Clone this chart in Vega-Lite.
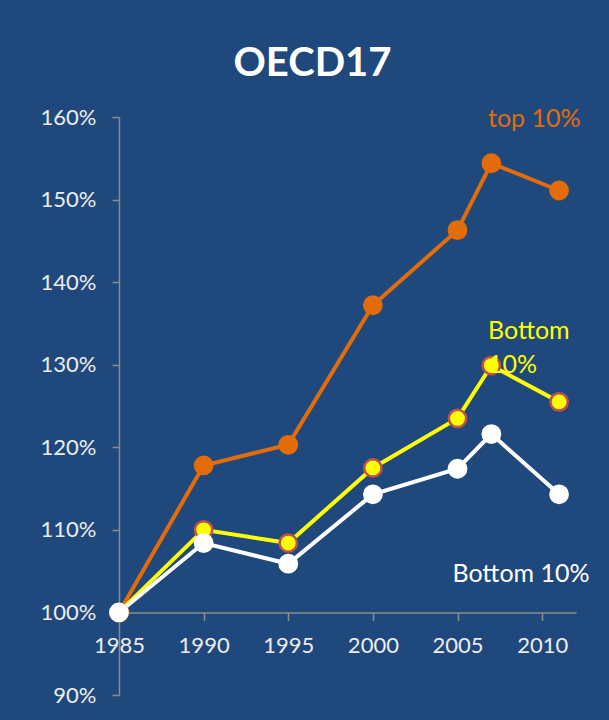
{
  "$schema": "https://vega.github.io/schema/vega-lite/v6.json",
  "width": 457,
  "height": 578,
  "autosize": {"type": "none"},
  "padding": {"left": 119, "top": 117, "right": 33, "bottom": 25},
  "background": "#1F497D",
  "config": {"view": {"stroke": null}, "font": "Lato"},
  "title": {"text": "OECD17", "color": "#FFFFFF", "fontSize": 40, "fontWeight": "bold", "font": "Lato", "anchor": "middle", "frame": "group", "dx": -35, "offset": 22},
  "datasets": {
    "series": [
      {"series": "top", "year": 1985, "value": 100},
      {"series": "top", "year": 1990, "value": 117.8},
      {"series": "top", "year": 1995, "value": 120.3},
      {"series": "top", "year": 2000, "value": 137.2},
      {"series": "top", "year": 2005, "value": 146.3},
      {"series": "top", "year": 2007, "value": 154.4},
      {"series": "top", "year": 2011, "value": 151.1},
      {"series": "bottomY", "year": 1985, "value": 100},
      {"series": "bottomY", "year": 1990, "value": 110.0},
      {"series": "bottomY", "year": 1995, "value": 108.4},
      {"series": "bottomY", "year": 2000, "value": 117.5},
      {"series": "bottomY", "year": 2005, "value": 123.5},
      {"series": "bottomY", "year": 2007, "value": 129.9},
      {"series": "bottomY", "year": 2011, "value": 125.5},
      {"series": "bottomW", "year": 1985, "value": 100},
      {"series": "bottomW", "year": 1990, "value": 108.4},
      {"series": "bottomW", "year": 1995, "value": 105.9},
      {"series": "bottomW", "year": 2000, "value": 114.3},
      {"series": "bottomW", "year": 2005, "value": 117.4},
      {"series": "bottomW", "year": 2007, "value": 121.6},
      {"series": "bottomW", "year": 2011, "value": 114.3}
    ],
    "labels": [
      {"series": "top", "label": "top 10%", "year": 2006.8, "value": 158.8},
      {"series": "bottomY", "label": "Bottom\n10%", "year": 2006.8, "value": 133.1},
      {"series": "bottomW", "label": "Bottom 10%", "year": 2004.7, "value": 103.7}
    ]
  },
  "layer": [
    {
      "data": {"name": "series"},
      "mark": {"type": "line", "strokeWidth": 4},
      "encoding": {
        "x": {
          "field": "year", "type": "quantitative",
          "scale": {"domain": [1985, 2012], "nice": false, "zero": false},
          "axis": {
            "values": [1985, 1990, 1995, 2000, 2005, 2010], "format": "d", "title": null,
            "offset": -82.57, "grid": false, "labelFlush": false, "labelOverlap": false,
            "domainColor": "#8C8C8C", "domainWidth": 1.5, "tickColor": "#8C8C8C", "tickWidth": 1.5, "tickSize": 8,
            "labelColor": "#EDEDED", "labelFontSize": 22, "labelPadding": 15, "labelFont": "Lato"
          }
        },
        "y": {
          "field": "value", "type": "quantitative",
          "scale": {"domain": [90, 160], "nice": false, "zero": false},
          "axis": {
            "values": [90, 100, 110, 120, 130, 140, 150, 160], "labelExpr": "datum.value + '%'", "title": null,
            "grid": false, "labelFlush": false, "labelOverlap": false,
            "domainColor": "#8C8C8C", "domainWidth": 1.5, "tickColor": "#8C8C8C", "tickWidth": 1.5, "tickSize": 7,
            "labelColor": "#EDEDED", "labelFontSize": 22, "labelPadding": 16, "labelFont": "Lato"
          }
        },
        "color": {"field": "series", "type": "nominal", "scale": {"domain": ["top", "bottomY", "bottomW"], "range": ["#E36C09", "#FFFF00", "#FFFFFF"]}, "legend": null},
        "order": {"field": "year", "type": "quantitative"}
      }
    },
    {
      "data": {"name": "series"},
      "mark": {"type": "point", "filled": true, "opacity": 1, "strokeWidth": 2.5, "size": 300},
      "encoding": {
        "x": {"field": "year", "type": "quantitative"},
        "y": {"field": "value", "type": "quantitative"},
        "fill": {"field": "series", "type": "nominal", "scale": {"domain": ["top", "bottomY", "bottomW"], "range": ["#E36C09", "#FFFF00", "#FFFFFF"]}, "legend": null},
        "stroke": {"field": "series", "type": "nominal", "scale": {"domain": ["top", "bottomY", "bottomW"], "range": ["#E36C09", "#C0504D", "#FFFFFF"]}, "legend": null}
      }
    },
    {
      "data": {"name": "labels"},
      "mark": {"type": "text", "align": "left", "baseline": "alphabetic", "fontSize": 25, "font": "Lato", "lineBreak": "\n", "lineHeight": 34},
      "encoding": {
        "x": {"field": "year", "type": "quantitative"},
        "y": {"field": "value", "type": "quantitative"},
        "text": {"field": "label"},
        "color": {"field": "series", "type": "nominal", "scale": {"domain": ["top", "bottomY", "bottomW"], "range": ["#E36C09", "#FFFF00", "#FFFFFF"]}, "legend": null}
      }
    }
  ]
}
